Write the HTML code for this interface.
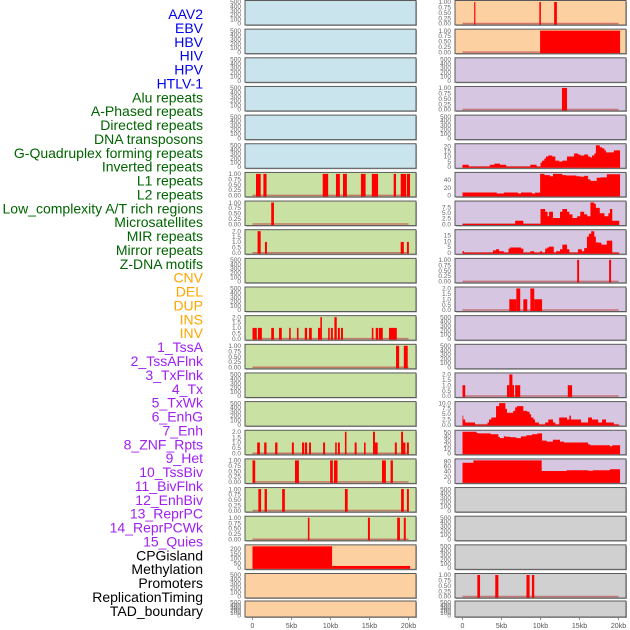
<!DOCTYPE html>
<html><head><meta charset="utf-8"><style>
html,body{margin:0;padding:0;background:#fff;}
svg{display:block;font-family:"Liberation Sans",sans-serif;}
</style></head><body>
<svg id="chart" width="630" height="630" viewBox="0 0 630 630"></svg>
<script>
const trackLabels=["AAV2","EBV","HBV","HIV","HPV","HTLV-1","Alu repeats","A-Phased repeats","Directed repeats","DNA transposons","G-Quadruplex forming repeats","Inverted repeats","L1 repeats","L2 repeats","Low_complexity A/T rich regions","Microsatellites","MIR repeats","Mirror repeats","Z-DNA motifs","CNV","DEL","DUP","INS","INV","1_TssA","2_TssAFlnk","3_TxFlnk","4_Tx","5_TxWk","6_EnhG","7_Enh","8_ZNF_Rpts","9_Het","10_TssBiv","11_BivFlnk","12_EnhBiv","13_ReprPC","14_ReprPCWk","15_Quies","CPGisland","Methylation","Promoters","ReplicationTiming","TAD_boundary"];
const labelColors=[["#0000ee",6],["#006400",13],["#ffa500",5],["#a020f0",15],["#000000",5]];
const xTicks=[0,5,10,15,20];
const xTickLabels=["0","5kb","10kb","15kb","20kb"];
const leftBg=["#c9e4ec","#c9e4ec","#c9e4ec","#c9e4ec","#c9e4ec","#c9e4ec","#c9e1a3","#c9e1a3","#c9e1a3","#c9e1a3","#c9e1a3","#c9e1a3","#c9e1a3","#c9e1a3","#c9e1a3","#c9e1a3","#c9e1a3","#c9e1a3","#c9e1a3","#fdd0a2","#fdd0a2","#fdd0a2"];
const rightBg=["#fdd0a2","#fdd0a2","#d6c6e1","#d6c6e1","#d6c6e1","#d6c6e1","#d6c6e1","#d6c6e1","#d6c6e1","#d6c6e1","#d6c6e1","#d6c6e1","#d6c6e1","#d6c6e1","#d6c6e1","#d6c6e1","#d6c6e1","#d0d0d0","#d0d0d0","#d0d0d0","#d0d0d0","#d0d0d0"];
// bars: [start kb, end kb, height]
const L6=[[0.45,1.05,1],[1.4,1.8,1],[9.0,9.7,1],[10.7,11.2,1],[11.6,12.1,1],[13.9,14.5,1],[15.3,16.1,1],[18.1,18.4,1],[19.0,19.7,1],[19.8,20.2,1]];
const L7=[[2.4,2.75,1]];
const L8=[[0.65,1.05,2],[1.6,1.85,1],[19.0,19.4,1],[19.8,20.05,1]];
const L11=[[0,0.55,1],[0.7,1.2,1],[2.4,2.75,1],[3.4,3.75,1],[4.7,4.9,1],[5.7,5.9,1],[6.7,7.0,1],[7.25,7.6,1],[8.4,8.7,1],[8.7,8.9,2],[9.7,9.9,1],[10.05,10.3,1],[10.5,10.8,2],[10.95,11.2,1],[11.35,11.6,1],[15.3,15.5,1],[15.8,16.1,1],[16.2,16.7,1],[17.5,18.5,1]];
const L12=[[18.4,18.8,1],[19.4,19.9,1]];
const L15=[[0.6,0.95,1],[1.5,1.8,1],[2.9,3.2,1],[5.05,5.3,1],[6.35,6.6,1],[6.7,7.0,1],[7.25,7.5,1],[9.05,9.3,1],[10.6,10.8,1],[10.95,11.2,1],[11.85,12.05,2],[13.1,13.35,1],[14.3,14.5,1],[15.45,15.7,2],[15.7,16.05,1],[18.25,18.5,1],[19.05,19.3,2],[19.3,19.6,1],[19.8,20.05,1]];
const L16=[[0,0.35,1],[5.45,5.95,1],[9.95,10.3,1],[10.45,10.9,1],[16.6,17.1,1],[17.7,18.0,1]];
const L17=[[0.75,1.1,1],[1.55,1.85,1],[3.8,4.15,1],[11.85,12.2,1],[19.05,19.4,1],[19.8,20.05,1]];
const L18=[[7.1,7.3,1],[14.8,15.05,1],[18.55,18.9,1],[19.4,19.65,1]];
const L19=[[0,10.2,228],[10.2,20.2,20]];
const R0=[[1.5,1.65,1],[9.85,10.05,1],[11.75,12.1,1]];
const R1=[[9.95,20.2,1]];
const R3=[[12.75,13.4,1]];
const R9=[[14.7,14.95,1],[18.8,19.05,1]];
const R10=[[6.0,6.9,1],[6.9,7.4,2],[7.8,8.3,1],[8.7,9.2,2],[9.2,10.2,1]];
const R13=[[0,0.35,1],[5.7,6.0,1],[6.0,6.4,2],[6.4,6.6,1],[6.75,7.4,1],[13.5,14.05,1]];
const R20=[[1.9,2.25,1],[4.2,4.6,1],[8.2,8.6,1],[8.9,9.2,1]];
// steps: [start kb, value], ends at given end
const R5=[[0,2],[0.8,0],[3.5,2],[4.1,3],[4.8,2],[5.6,0],[8.7,2],[9.5,0],[10.0,4],[10.2,6],[10.5,8],[10.7,10],[11.0,11],[11.5,10],[11.9,6],[12.4,5],[12.8,6],[13.4,10],[14.3,13],[14.8,12],[15.1,11],[15.6,12],[16.1,10],[16.4,9],[16.6,11],[16.9,13],[17.1,21],[17.6,19],[17.9,18],[18.2,16],[18.4,14],[19.4,16],[20.2,0]];
const R6=[[0,7.5],[4.4,5],[5.3,7.5],[7.1,5],[7.5,7.5],[8.9,5],[9.3,7],[9.95,55],[10.5,52],[11.2,49],[11.6,55],[12.8,52],[13.3,51],[14.6,49],[15.1,48],[15.6,50],[16.1,41],[16.4,37],[17.2,45],[17.7,46],[18.5,54],[20.2,0]];
const R7=[[0,0],[6.75,1.5],[7.8,0],[10.0,6.7],[10.6,5.5],[10.9,3.5],[11.1,5.5],[11.6,2.7],[12.5,5.5],[12.8,6.7],[13.4,5.5],[13.7,4.3],[14.1,2.7],[14.7,3.5],[15.1,5.5],[15.6,4.3],[16.0,3.5],[16.4,9.6],[16.9,9],[17.1,7.2],[17.6,4.8],[18.2,3.5],[18.7,4.8],[18.9,6.7],[19.2,1.5],[20.1,0]];
const R8=[[0,1.3],[0.2,0],[3.9,2],[4.3,3],[4.7,1.3],[5.3,0],[5.9,3.5],[6.1,4.5],[7.5,3.5],[7.8,0],[8.7,1.3],[9.2,0],[9.95,1.3],[10.2,0],[10.6,3.5],[10.85,4.5],[11.1,5.3],[11.7,0],[12.0,1.3],[12.5,3],[12.8,7],[13.4,3],[13.7,0],[14.8,3],[15.3,1.3],[15.6,4],[15.95,14],[16.2,16.5],[16.5,18.7],[16.9,14],[17.1,9],[17.4,8.8],[17.8,7],[18.5,10.5],[19.2,0],[20.1,0]];
const R14=[[0,4.2],[0.1,2.4],[0.35,1],[1.6,0],[3.2,1],[3.4,2.4],[3.7,3.3],[4.3,8.6],[4.7,10],[5.5,7.3],[5.7,5.5],[6.5,6.4],[6.75,8],[7.0,8.6],[7.8,6.4],[8.3,6],[8.6,4.8],[8.8,3.3],[9.1,2.4],[9.3,1],[9.8,0],[10.6,1],[11.0,2.4],[11.6,1],[11.9,0],[12.4,3.3],[13.4,2.4],[13.7,4.2],[13.9,2.4],[15.2,1],[16.1,3.3],[16.6,2.4],[17.4,1],[17.9,2.4],[18.4,1],[19.4,0],[20.1,0]];
const R15=[[0,51],[1.8,48],[2.0,47],[3.6,45],[4.6,38.5],[4.8,36],[5.3,40],[5.6,39],[6.1,38],[6.9,36],[7.5,40],[8.2,42.7],[8.9,45],[9.6,47],[10.2,30],[10.8,27.5],[11.6,32],[12.5,27.5],[13.0,25.4],[16.1,21],[16.4,19],[18.9,16.7],[19.2,19],[20.2,0]];
const R16=[[0,74],[1.4,83],[10.15,42],[13.35,45],[16.1,43],[16.75,45],[18.9,49],[20.2,0]];
// y-axis tick sets
const T500=[0,100,200,300,400,500];
const T1=[0,0.25,0.5,0.75,1];
const T2=[0,0.5,1,1.5,2];

const leftPanels={6:{bars:L6,ymax:1,ticks:T1,dec:2},7:{bars:L7,ymax:1,ticks:T1,dec:2},8:{bars:L8,ymax:2,ticks:T2,dec:1},11:{bars:L11,ymax:2,ticks:T2,dec:1},12:{bars:L12,ymax:1,ticks:T1,dec:2},15:{bars:L15,ymax:2,ticks:T2,dec:1},16:{bars:L16,ymax:1,ticks:T1,dec:2},17:{bars:L17,ymax:1,ticks:T1,dec:2},18:{bars:L18,ymax:1,ticks:T1,dec:2},19:{bars:L19,ymax:228,ticks:[0,50,100,150,200],dec:0}};
const rightPanels={0:{bars:R0,ymax:1,ticks:T1,dec:2},1:{bars:R1,ymax:1,ticks:T1,dec:2},3:{bars:R3,ymax:1,ticks:T1,dec:2},5:{steps:R5,ymax:21,ticks:[0,5,10,15,20],dec:0},6:{steps:R6,ymax:55,ticks:[0,20,40],dec:0},7:{steps:R7,ymax:9.6,ticks:[0,2.5,5,7.5],dec:1},8:{steps:R8,ymax:18.7,ticks:[0,5,10,15],dec:0},9:{bars:R9,ymax:1,ticks:T1,dec:2},10:{bars:R10,ymax:2,ticks:T2,dec:1},13:{bars:R13,ymax:2,ticks:T2,dec:1},14:{steps:R14,ymax:10,ticks:[0,2.5,5,7.5,10],dec:1},15:{steps:R15,ymax:51,ticks:[0,10,20,30,40,50],dec:0},16:{steps:R16,ymax:83,ticks:[0,20,40,60,80],dec:0},20:{bars:R20,ymax:1,ticks:T1,dec:2}};

const NS="http://www.w3.org/2000/svg";
const svg=document.getElementById('chart');
function mk(tag,attrs,parent){const e=document.createElementNS(NS,tag);for(const k in attrs)e.setAttribute(k,attrs[k]);(parent||svg).appendChild(e);return e;}

// labels
let li=0;
labelColors.forEach(([c,n])=>{for(let j=0;j<n;j++){const t=mk('text',{x:203,y:14+li*13.88+5,'text-anchor':'end','font-size':14,fill:c});t.textContent=trackLabels[li];


li++;}});

const cols=[{x0:245,bg:leftBg,panels:leftPanels,zero:252.5,side:'left'},{x0:455,bg:rightBg,panels:rightPanels,zero:462.5,side:'right'}];
const pxPerKb=7.8;
cols.forEach(col=>{
  const xs=kb=>col.zero+kb*pxPerKb;
  for(let r=0;r<22;r++){
    const top=r===21?601:r*28.65+0.5;
    const h=r===21?16:24.5;
    const g=mk('g',{});
    
    
    mk('rect',{x:col.x0+1,y:top+1,width:171,height:h,fill:'#aaa'},g);
    mk('rect',{x:col.x0,y:top,width:171,height:h,fill:col.bg[r],stroke:'#5a5a5a','stroke-width':1},g);
    const p=col.panels[r]||{ymax:500,ticks:T500,dec:0};
    const y0=top+h-1.5, y1=top+1.5;
    const ys=v=>y0-(Math.min(v,p.ymax)/p.ymax)*(y0-y1);
    p.ticks.forEach(tv=>{const t=mk('text',{x:col.x0-4,y:ys(tv)+2.2,'text-anchor':'end','font-size':6.5,fill:'#666'},g);t.textContent=tv.toFixed(p.dec);
      
      });
    if(p.bars||p.steps){
      const base=mk('line',{x1:xs(0),x2:xs(20),y1:y0,y2:y0,stroke:'#c05050','stroke-width':1.5,'stroke-opacity':0.7},g);
      
      
    }
    if(p.bars){p.bars.forEach(b=>{const rr=mk('rect',{x:xs(b[0]),y:ys(b[2]),width:Math.max(1,xs(b[1])-xs(b[0])),height:y0-ys(b[2])+1,fill:'#ff0000'},g);
      
      });}
    if(p.steps){let d='M'+xs(p.steps[0][0])+','+(y0+1);
      for(let i=0;i<p.steps.length-1;i++){const a=p.steps[i],b=p.steps[i+1];d+=' L'+xs(a[0])+','+ys(a[1])+' L'+xs(b[0])+','+ys(a[1]);}
      d+=' L'+xs(p.steps[p.steps.length-1][0])+','+(y0+1)+'Z';
      const pa=mk('path',{d:d,fill:'#ff0000'},g);
      
      }
  }
  xTicks.forEach((v,i)=>{const x=xs(v);mk('line',{x1:x,x2:x,y1:617,y2:620,stroke:'#777','stroke-width':0.8});
    const t=mk('text',{x:x,y:628,'text-anchor':'middle','font-size':7,fill:'#555'});t.textContent=xTickLabels[i];
    
    });
});
</script>
</body></html>
